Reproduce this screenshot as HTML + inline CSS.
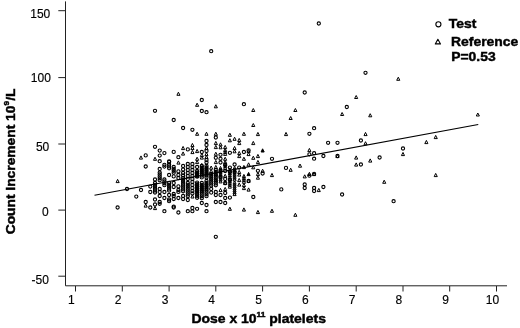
<!DOCTYPE html>
<html><head><meta charset="utf-8"><title>Count Increment vs Dose</title>
<style>
html,body{margin:0;padding:0;background:#fff;}
svg{display:block;font-family:"Liberation Sans",sans-serif;}
.tk{font-size:12px;fill:#000;stroke:#000;stroke-width:0.15px;}
.ttl{font-size:13.3px;font-weight:bold;fill:#000;stroke:#000;stroke-width:0.45px;}
.lg{font-size:13.25px;font-weight:bold;fill:#000;stroke:#000;stroke-width:0.45px;}
.m{stroke-linejoin:round;fill:#fff;fill-opacity:0;stroke:#000;stroke-width:1.1;}
</style></head><body>
<svg width="520" height="328" viewBox="0 0 520 328">
<rect width="520" height="328" fill="#fff"/>
<path d="M65.5 1.4V285.8H507" fill="none" stroke="#222" stroke-width="1"/>
<line x1="75.5" y1="286" x2="75.5" y2="291.5" stroke="#222" stroke-width="1"/>
<text x="71.4" y="303.9" text-anchor="middle" class="tk">1</text>
<line x1="122.3" y1="286" x2="122.3" y2="291.5" stroke="#222" stroke-width="1"/>
<text x="118.2" y="303.9" text-anchor="middle" class="tk">2</text>
<line x1="169.1" y1="286" x2="169.1" y2="291.5" stroke="#222" stroke-width="1"/>
<text x="165.0" y="303.9" text-anchor="middle" class="tk">3</text>
<line x1="215.8" y1="286" x2="215.8" y2="291.5" stroke="#222" stroke-width="1"/>
<text x="211.7" y="303.9" text-anchor="middle" class="tk">4</text>
<line x1="262.6" y1="286" x2="262.6" y2="291.5" stroke="#222" stroke-width="1"/>
<text x="258.5" y="303.9" text-anchor="middle" class="tk">5</text>
<line x1="309.4" y1="286" x2="309.4" y2="291.5" stroke="#222" stroke-width="1"/>
<text x="305.3" y="303.9" text-anchor="middle" class="tk">6</text>
<line x1="356.2" y1="286" x2="356.2" y2="291.5" stroke="#222" stroke-width="1"/>
<text x="352.1" y="303.9" text-anchor="middle" class="tk">7</text>
<line x1="403.0" y1="286" x2="403.0" y2="291.5" stroke="#222" stroke-width="1"/>
<text x="398.9" y="303.9" text-anchor="middle" class="tk">8</text>
<line x1="449.7" y1="286" x2="449.7" y2="291.5" stroke="#222" stroke-width="1"/>
<text x="445.6" y="303.9" text-anchor="middle" class="tk">9</text>
<line x1="496.5" y1="286" x2="496.5" y2="291.5" stroke="#222" stroke-width="1"/>
<text x="492.4" y="303.9" text-anchor="middle" class="tk">10</text>
<line x1="58.3" y1="10.7" x2="65.5" y2="10.7" stroke="#222" stroke-width="1"/>
<text x="50.3" y="17.6" text-anchor="end" class="tk">150</text>
<line x1="58.3" y1="77.6" x2="65.5" y2="77.6" stroke="#222" stroke-width="1"/>
<text x="50.9" y="82.3" text-anchor="end" class="tk">100</text>
<line x1="58.3" y1="144.0" x2="65.5" y2="144.0" stroke="#222" stroke-width="1"/>
<text x="49.3" y="150.6" text-anchor="end" class="tk">50</text>
<line x1="58.3" y1="210.1" x2="65.5" y2="210.1" stroke="#222" stroke-width="1"/>
<text x="48.8" y="216.4" text-anchor="end" class="tk">0</text>
<line x1="58.3" y1="276.2" x2="65.5" y2="276.2" stroke="#222" stroke-width="1"/>
<text x="48.9" y="283.7" text-anchor="end" class="tk">-50</text>
<line x1="94.5" y1="195.25" x2="478.25" y2="124.5" stroke="#000" stroke-width="1.2"/>
<g class="m">
<polygon points="117.6,179.4 116.1,182.6 119.2,182.6" stroke-width="1.0"/>
<circle cx="117.6" cy="207.5" r="1.6"/>
<circle cx="127.0" cy="189.0" r="1.6"/>
<circle cx="136.3" cy="196.6" r="1.6"/>
<polygon points="141.0,155.9 139.4,159.1 142.5,159.1" stroke-width="1.0"/>
<circle cx="141.0" cy="190.0" r="1.6"/>
<circle cx="145.7" cy="155.4" r="1.6"/>
<circle cx="145.7" cy="166.5" r="1.6"/>
<circle cx="145.7" cy="202.0" r="1.6"/>
<polygon points="145.7,203.9 144.1,207.1 147.2,207.1" stroke-width="1.0"/>
<circle cx="150.3" cy="186.6" r="1.6"/>
<circle cx="150.3" cy="192.0" r="1.6"/>
<circle cx="150.3" cy="207.5" r="1.6"/>
<circle cx="155.0" cy="110.8" r="1.6"/>
<circle cx="155.0" cy="146.8" r="1.6"/>
<polygon points="155.0,157.2 153.5,160.3 156.6,160.3" stroke-width="1.0"/>
<circle cx="155.0" cy="179.5" r="1.6"/>
<circle cx="155.0" cy="183.0" r="1.6"/>
<circle cx="155.0" cy="184.9" r="1.6"/>
<circle cx="155.0" cy="186.8" r="1.6"/>
<circle cx="155.0" cy="188.7" r="1.6"/>
<circle cx="155.0" cy="190.6" r="1.6"/>
<circle cx="155.0" cy="192.5" r="1.6"/>
<circle cx="155.0" cy="199.5" r="1.6"/>
<circle cx="155.0" cy="204.5" r="1.6"/>
<polygon points="155.0,206.4 153.5,209.6 156.6,209.6" stroke-width="1.0"/>
<circle cx="159.7" cy="150.6" r="1.6"/>
<circle cx="159.7" cy="155.6" r="1.6"/>
<circle cx="159.7" cy="161.2" r="1.6"/>
<circle cx="159.7" cy="169.0" r="1.6"/>
<circle cx="159.7" cy="172.6" r="1.6"/>
<circle cx="159.7" cy="174.5" r="1.6"/>
<circle cx="159.7" cy="176.4" r="1.6"/>
<circle cx="159.7" cy="178.3" r="1.6"/>
<circle cx="159.7" cy="180.2" r="1.6"/>
<circle cx="159.7" cy="189.0" r="1.6"/>
<circle cx="159.7" cy="192.0" r="1.6"/>
<circle cx="159.7" cy="196.0" r="1.6"/>
<circle cx="159.7" cy="202.0" r="1.6"/>
<circle cx="159.7" cy="203.8" r="1.6"/>
<circle cx="164.4" cy="153.1" r="1.6"/>
<circle cx="164.4" cy="164.8" r="1.6"/>
<circle cx="164.4" cy="166.6" r="1.6"/>
<circle cx="164.4" cy="179.5" r="1.6"/>
<circle cx="164.4" cy="181.4" r="1.6"/>
<circle cx="164.4" cy="183.3" r="1.6"/>
<circle cx="164.4" cy="185.2" r="1.6"/>
<circle cx="164.4" cy="192.0" r="1.6"/>
<circle cx="164.4" cy="198.0" r="1.6"/>
<circle cx="164.4" cy="211.2" r="1.6"/>
<circle cx="169.1" cy="161.5" r="1.6"/>
<circle cx="169.1" cy="162.1" r="1.6"/>
<circle cx="169.1" cy="164.5" r="1.6"/>
<circle cx="169.1" cy="166.4" r="1.6"/>
<circle cx="169.1" cy="168.3" r="1.6"/>
<circle cx="169.1" cy="175.0" r="1.6"/>
<circle cx="169.1" cy="183.0" r="1.6"/>
<circle cx="169.1" cy="184.9" r="1.6"/>
<circle cx="169.1" cy="186.8" r="1.6"/>
<circle cx="169.1" cy="188.7" r="1.6"/>
<circle cx="169.1" cy="190.6" r="1.6"/>
<circle cx="169.1" cy="195.0" r="1.6"/>
<circle cx="169.1" cy="199.5" r="1.6"/>
<circle cx="169.1" cy="201.2" r="1.6"/>
<circle cx="173.7" cy="120.0" r="1.6"/>
<circle cx="173.7" cy="151.9" r="1.6"/>
<circle cx="173.7" cy="167.0" r="1.6"/>
<circle cx="173.7" cy="168.9" r="1.6"/>
<circle cx="173.7" cy="170.8" r="1.6"/>
<circle cx="173.7" cy="172.7" r="1.6"/>
<circle cx="173.7" cy="176.4" r="1.6"/>
<circle cx="173.7" cy="183.0" r="1.6"/>
<circle cx="173.7" cy="187.0" r="1.6"/>
<circle cx="173.7" cy="194.0" r="1.6"/>
<circle cx="173.7" cy="196.0" r="1.6"/>
<circle cx="173.7" cy="199.0" r="1.6"/>
<circle cx="173.7" cy="206.6" r="1.6"/>
<circle cx="173.7" cy="207.5" r="1.6"/>
<polygon points="178.4,92.2 176.9,95.3 180.0,95.3" stroke-width="1.0"/>
<circle cx="178.4" cy="157.2" r="1.6"/>
<polygon points="178.4,160.9 176.9,164.1 180.0,164.1" stroke-width="1.0"/>
<circle cx="178.4" cy="171.4" r="1.6"/>
<circle cx="178.4" cy="175.0" r="1.6"/>
<circle cx="178.4" cy="178.0" r="1.6"/>
<circle cx="178.4" cy="186.4" r="1.6"/>
<circle cx="178.4" cy="190.0" r="1.6"/>
<circle cx="178.4" cy="191.9" r="1.6"/>
<circle cx="178.4" cy="198.0" r="1.6"/>
<circle cx="178.4" cy="212.5" r="1.6"/>
<circle cx="183.1" cy="128.0" r="1.6"/>
<polygon points="183.1,146.4 181.5,149.6 184.6,149.6" stroke-width="1.0"/>
<polygon points="183.1,151.9 181.5,155.1 184.6,155.1" stroke-width="1.0"/>
<circle cx="183.1" cy="166.0" r="1.6"/>
<circle cx="183.1" cy="169.5" r="1.6"/>
<circle cx="183.1" cy="173.0" r="1.6"/>
<circle cx="183.1" cy="175.5" r="1.6"/>
<circle cx="183.1" cy="178.0" r="1.6"/>
<circle cx="183.1" cy="179.9" r="1.6"/>
<circle cx="183.1" cy="181.8" r="1.6"/>
<circle cx="183.1" cy="183.7" r="1.6"/>
<circle cx="183.1" cy="185.6" r="1.6"/>
<circle cx="183.1" cy="187.5" r="1.6"/>
<circle cx="183.1" cy="189.4" r="1.6"/>
<circle cx="183.1" cy="191.3" r="1.6"/>
<circle cx="183.1" cy="196.0" r="1.6"/>
<circle cx="183.1" cy="199.0" r="1.6"/>
<circle cx="187.8" cy="149.4" r="1.6"/>
<circle cx="187.8" cy="164.0" r="1.6"/>
<circle cx="187.8" cy="167.0" r="1.6"/>
<circle cx="187.8" cy="170.0" r="1.6"/>
<circle cx="187.8" cy="173.0" r="1.6"/>
<circle cx="187.8" cy="176.0" r="1.6"/>
<circle cx="187.8" cy="179.0" r="1.6"/>
<circle cx="187.8" cy="183.0" r="1.6"/>
<circle cx="187.8" cy="184.9" r="1.6"/>
<circle cx="187.8" cy="186.8" r="1.6"/>
<circle cx="187.8" cy="188.7" r="1.6"/>
<circle cx="187.8" cy="190.6" r="1.6"/>
<circle cx="187.8" cy="192.5" r="1.6"/>
<circle cx="187.8" cy="194.4" r="1.6"/>
<circle cx="187.8" cy="196.3" r="1.6"/>
<circle cx="187.8" cy="200.0" r="1.6"/>
<circle cx="187.8" cy="211.2" r="1.6"/>
<circle cx="192.4" cy="129.8" r="1.6"/>
<polygon points="192.4,143.4 190.9,146.6 194.0,146.6" stroke-width="1.0"/>
<polygon points="192.4,146.4 190.9,149.6 194.0,149.6" stroke-width="1.0"/>
<polygon points="192.4,150.4 190.9,153.6 194.0,153.6" stroke-width="1.0"/>
<circle cx="192.4" cy="164.0" r="1.6"/>
<circle cx="192.4" cy="167.0" r="1.6"/>
<circle cx="192.4" cy="170.0" r="1.6"/>
<circle cx="192.4" cy="173.0" r="1.6"/>
<circle cx="192.4" cy="176.0" r="1.6"/>
<circle cx="192.4" cy="179.0" r="1.6"/>
<circle cx="192.4" cy="182.0" r="1.6"/>
<circle cx="192.4" cy="185.0" r="1.6"/>
<circle cx="192.4" cy="188.0" r="1.6"/>
<circle cx="192.4" cy="191.0" r="1.6"/>
<circle cx="192.4" cy="193.5" r="1.6"/>
<polygon points="192.4,194.8 190.9,198.0 194.0,198.0" stroke-width="1.0"/>
<circle cx="192.4" cy="208.0" r="1.6"/>
<circle cx="192.4" cy="211.2" r="1.6"/>
<polygon points="197.1,103.2 195.6,106.3 198.7,106.3" stroke-width="1.0"/>
<polygon points="197.1,132.2 195.6,135.3 198.7,135.3" stroke-width="1.0"/>
<polygon points="197.1,149.4 195.6,152.6 198.7,152.6" stroke-width="1.0"/>
<polygon points="197.1,157.2 195.6,160.3 198.7,160.3" stroke-width="1.0"/>
<polygon points="197.1,160.4 195.6,163.6 198.7,163.6" stroke-width="1.0"/>
<circle cx="197.1" cy="167.0" r="1.6"/>
<circle cx="197.1" cy="171.0" r="1.6"/>
<circle cx="197.1" cy="172.9" r="1.6"/>
<circle cx="197.1" cy="174.8" r="1.6"/>
<circle cx="197.1" cy="176.7" r="1.6"/>
<polygon points="197.1,170.4 195.6,173.6 198.7,173.6" stroke-width="1.0"/>
<polygon points="197.1,172.3 195.6,175.5 198.7,175.5" stroke-width="1.0"/>
<polygon points="197.1,174.2 195.6,177.4 198.7,177.4" stroke-width="1.0"/>
<circle cx="197.1" cy="182.6" r="1.6"/>
<circle cx="197.1" cy="184.5" r="1.6"/>
<circle cx="197.1" cy="186.4" r="1.6"/>
<circle cx="197.1" cy="188.3" r="1.6"/>
<circle cx="197.1" cy="190.2" r="1.6"/>
<circle cx="197.1" cy="192.1" r="1.6"/>
<circle cx="197.1" cy="194.0" r="1.6"/>
<circle cx="197.1" cy="195.9" r="1.6"/>
<circle cx="197.1" cy="197.8" r="1.6"/>
<polygon points="197.1,182.4 195.6,185.6 198.7,185.6" stroke-width="1.0"/>
<polygon points="197.1,184.3 195.6,187.5 198.7,187.5" stroke-width="1.0"/>
<polygon points="197.1,186.2 195.6,189.4 198.7,189.4" stroke-width="1.0"/>
<polygon points="197.1,188.2 195.6,191.3 198.7,191.3" stroke-width="1.0"/>
<circle cx="197.1" cy="208.8" r="1.6"/>
<circle cx="201.8" cy="100.0" r="1.6"/>
<circle cx="201.8" cy="111.0" r="1.6"/>
<circle cx="201.8" cy="152.0" r="1.6"/>
<polygon points="201.8,153.4 200.3,156.6 203.4,156.6" stroke-width="1.0"/>
<polygon points="201.8,155.9 200.3,159.1 203.4,159.1" stroke-width="1.0"/>
<polygon points="201.8,163.4 200.3,166.6 203.4,166.6" stroke-width="1.0"/>
<circle cx="201.8" cy="166.0" r="1.6"/>
<circle cx="201.8" cy="167.9" r="1.6"/>
<circle cx="201.8" cy="169.8" r="1.6"/>
<circle cx="201.8" cy="171.7" r="1.6"/>
<circle cx="201.8" cy="173.6" r="1.6"/>
<circle cx="201.8" cy="175.5" r="1.6"/>
<circle cx="201.8" cy="177.4" r="1.6"/>
<polygon points="201.8,166.4 200.3,169.6 203.4,169.6" stroke-width="1.0"/>
<polygon points="201.8,168.3 200.3,171.5 203.4,171.5" stroke-width="1.0"/>
<polygon points="201.8,170.2 200.3,173.4 203.4,173.4" stroke-width="1.0"/>
<polygon points="201.8,172.2 200.3,175.3 203.4,175.3" stroke-width="1.0"/>
<circle cx="201.8" cy="183.0" r="1.6"/>
<circle cx="201.8" cy="184.9" r="1.6"/>
<circle cx="201.8" cy="186.8" r="1.6"/>
<circle cx="201.8" cy="188.7" r="1.6"/>
<circle cx="201.8" cy="190.6" r="1.6"/>
<circle cx="201.8" cy="192.5" r="1.6"/>
<circle cx="201.8" cy="194.4" r="1.6"/>
<circle cx="201.8" cy="196.3" r="1.6"/>
<circle cx="201.8" cy="198.2" r="1.6"/>
<polygon points="201.8,183.4 200.3,186.6 203.4,186.6" stroke-width="1.0"/>
<polygon points="201.8,185.3 200.3,188.5 203.4,188.5" stroke-width="1.0"/>
<polygon points="201.8,187.2 200.3,190.4 203.4,190.4" stroke-width="1.0"/>
<polygon points="201.8,189.2 200.3,192.3 203.4,192.3" stroke-width="1.0"/>
<circle cx="201.8" cy="203.0" r="1.6"/>
<circle cx="206.5" cy="112.2" r="1.6"/>
<polygon points="206.5,132.2 204.9,135.3 208.0,135.3" stroke-width="1.0"/>
<circle cx="206.5" cy="141.0" r="1.6"/>
<circle cx="206.5" cy="145.0" r="1.6"/>
<polygon points="206.5,146.4 204.9,149.6 208.0,149.6" stroke-width="1.0"/>
<circle cx="206.5" cy="151.0" r="1.6"/>
<polygon points="206.5,152.4 204.9,155.6 208.0,155.6" stroke-width="1.0"/>
<polygon points="206.5,155.4 204.9,158.6 208.0,158.6" stroke-width="1.0"/>
<circle cx="206.5" cy="160.0" r="1.6"/>
<circle cx="206.5" cy="162.5" r="1.6"/>
<circle cx="206.5" cy="166.0" r="1.6"/>
<circle cx="206.5" cy="167.9" r="1.6"/>
<circle cx="206.5" cy="169.8" r="1.6"/>
<circle cx="206.5" cy="171.7" r="1.6"/>
<circle cx="206.5" cy="173.6" r="1.6"/>
<circle cx="206.5" cy="175.5" r="1.6"/>
<circle cx="206.5" cy="177.4" r="1.6"/>
<polygon points="206.5,165.4 204.9,168.6 208.0,168.6" stroke-width="1.0"/>
<polygon points="206.5,167.3 204.9,170.5 208.0,170.5" stroke-width="1.0"/>
<polygon points="206.5,169.2 204.9,172.4 208.0,172.4" stroke-width="1.0"/>
<polygon points="206.5,171.2 204.9,174.3 208.0,174.3" stroke-width="1.0"/>
<polygon points="206.5,173.1 204.9,176.2 208.0,176.2" stroke-width="1.0"/>
<circle cx="206.5" cy="181.0" r="1.6"/>
<circle cx="206.5" cy="182.9" r="1.6"/>
<circle cx="206.5" cy="184.8" r="1.6"/>
<circle cx="206.5" cy="186.7" r="1.6"/>
<circle cx="206.5" cy="188.6" r="1.6"/>
<circle cx="206.5" cy="190.5" r="1.6"/>
<circle cx="206.5" cy="192.4" r="1.6"/>
<circle cx="206.5" cy="194.3" r="1.6"/>
<circle cx="206.5" cy="196.2" r="1.6"/>
<polygon points="206.5,181.4 204.9,184.6 208.0,184.6" stroke-width="1.0"/>
<polygon points="206.5,183.3 204.9,186.5 208.0,186.5" stroke-width="1.0"/>
<polygon points="206.5,185.2 204.9,188.4 208.0,188.4" stroke-width="1.0"/>
<polygon points="206.5,187.2 204.9,190.3 208.0,190.3" stroke-width="1.0"/>
<circle cx="206.5" cy="205.0" r="1.6"/>
<circle cx="206.5" cy="211.2" r="1.6"/>
<circle cx="211.2" cy="51.2" r="1.6"/>
<polygon points="211.2,166.0 209.6,169.2 212.7,169.2" stroke-width="1.0"/>
<polygon points="211.2,169.4 209.6,172.6 212.7,172.6" stroke-width="1.0"/>
<circle cx="211.2" cy="174.0" r="1.6"/>
<circle cx="211.2" cy="176.0" r="1.6"/>
<circle cx="211.2" cy="177.9" r="1.6"/>
<circle cx="211.2" cy="179.8" r="1.6"/>
<circle cx="211.2" cy="181.7" r="1.6"/>
<circle cx="211.2" cy="183.6" r="1.6"/>
<circle cx="211.2" cy="185.5" r="1.6"/>
<circle cx="211.2" cy="189.0" r="1.6"/>
<circle cx="211.2" cy="192.6" r="1.6"/>
<polygon points="215.8,104.7 214.3,107.8 217.4,107.8" stroke-width="1.0"/>
<polygon points="215.8,132.2 214.3,135.3 217.4,135.3" stroke-width="1.0"/>
<circle cx="215.8" cy="137.5" r="1.6"/>
<polygon points="215.8,141.4 214.3,144.6 217.4,144.6" stroke-width="1.0"/>
<polygon points="215.8,145.4 214.3,148.6 217.4,148.6" stroke-width="1.0"/>
<polygon points="215.8,152.2 214.3,155.3 217.4,155.3" stroke-width="1.0"/>
<circle cx="215.8" cy="157.8" r="1.6"/>
<polygon points="215.8,160.4 214.3,163.6 217.4,163.6" stroke-width="1.0"/>
<polygon points="215.8,165.4 214.3,168.6 217.4,168.6" stroke-width="1.0"/>
<circle cx="215.8" cy="170.0" r="1.6"/>
<circle cx="215.8" cy="172.0" r="1.6"/>
<circle cx="215.8" cy="173.9" r="1.6"/>
<circle cx="215.8" cy="175.8" r="1.6"/>
<circle cx="215.8" cy="177.7" r="1.6"/>
<circle cx="215.8" cy="179.6" r="1.6"/>
<circle cx="215.8" cy="181.5" r="1.6"/>
<circle cx="215.8" cy="183.4" r="1.6"/>
<circle cx="215.8" cy="185.3" r="1.6"/>
<polygon points="215.8,172.4 214.3,175.6 217.4,175.6" stroke-width="1.0"/>
<polygon points="215.8,178.4 214.3,181.6 217.4,181.6" stroke-width="1.0"/>
<circle cx="215.8" cy="192.0" r="1.6"/>
<circle cx="215.8" cy="195.0" r="1.6"/>
<circle cx="215.8" cy="202.0" r="1.6"/>
<circle cx="215.8" cy="236.8" r="1.6"/>
<polygon points="220.5,142.8 219.0,146.0 222.1,146.0" stroke-width="1.0"/>
<polygon points="220.5,145.7 219.0,148.8 222.1,148.8" stroke-width="1.0"/>
<circle cx="220.5" cy="154.8" r="1.6"/>
<circle cx="220.5" cy="158.8" r="1.6"/>
<circle cx="220.5" cy="162.5" r="1.6"/>
<polygon points="220.5,166.4 219.0,169.6 222.1,169.6" stroke-width="1.0"/>
<polygon points="220.5,168.3 219.0,171.5 222.1,171.5" stroke-width="1.0"/>
<polygon points="220.5,170.2 219.0,173.4 222.1,173.4" stroke-width="1.0"/>
<polygon points="220.5,172.2 219.0,175.3 222.1,175.3" stroke-width="1.0"/>
<polygon points="220.5,174.1 219.0,177.2 222.1,177.2" stroke-width="1.0"/>
<polygon points="220.5,176.0 219.0,179.1 222.1,179.1" stroke-width="1.0"/>
<polygon points="220.5,177.9 219.0,181.0 222.1,181.0" stroke-width="1.0"/>
<polygon points="220.5,179.8 219.0,182.9 222.1,182.9" stroke-width="1.0"/>
<circle cx="220.5" cy="171.0" r="1.6"/>
<circle cx="220.5" cy="177.0" r="1.6"/>
<polygon points="220.5,188.4 219.0,191.6 222.1,191.6" stroke-width="1.0"/>
<circle cx="220.5" cy="195.0" r="1.6"/>
<circle cx="220.5" cy="202.0" r="1.6"/>
<polygon points="225.2,145.4 223.6,148.6 226.7,148.6" stroke-width="1.0"/>
<polygon points="225.2,148.4 223.6,151.6 226.7,151.6" stroke-width="1.0"/>
<polygon points="225.2,150.3 223.6,153.5 226.7,153.5" stroke-width="1.0"/>
<polygon points="225.2,152.2 223.6,155.4 226.7,155.4" stroke-width="1.0"/>
<polygon points="225.2,157.2 223.6,160.3 226.7,160.3" stroke-width="1.0"/>
<polygon points="225.2,160.4 223.6,163.6 226.7,163.6" stroke-width="1.0"/>
<polygon points="225.2,162.3 223.6,165.5 226.7,165.5" stroke-width="1.0"/>
<polygon points="225.2,164.2 223.6,167.4 226.7,167.4" stroke-width="1.0"/>
<polygon points="225.2,166.2 223.6,169.3 226.7,169.3" stroke-width="1.0"/>
<circle cx="225.2" cy="165.0" r="1.6"/>
<circle cx="225.2" cy="171.0" r="1.6"/>
<polygon points="225.2,174.2 223.6,177.3 226.7,177.3" stroke-width="1.0"/>
<circle cx="225.2" cy="179.0" r="1.6"/>
<circle cx="225.2" cy="183.0" r="1.6"/>
<polygon points="225.2,181.4 223.6,184.6 226.7,184.6" stroke-width="1.0"/>
<polygon points="225.2,187.4 223.6,190.6 226.7,190.6" stroke-width="1.0"/>
<circle cx="225.2" cy="193.0" r="1.6"/>
<circle cx="225.2" cy="198.0" r="1.6"/>
<circle cx="225.2" cy="203.0" r="1.6"/>
<polygon points="229.9,133.2 228.3,136.3 231.4,136.3" stroke-width="1.0"/>
<polygon points="229.9,138.7 228.3,141.8 231.4,141.8" stroke-width="1.0"/>
<circle cx="229.9" cy="152.8" r="1.6"/>
<circle cx="229.9" cy="167.6" r="1.6"/>
<polygon points="229.9,167.9 228.3,171.1 231.4,171.1" stroke-width="1.0"/>
<polygon points="229.9,169.8 228.3,173.0 231.4,173.0" stroke-width="1.0"/>
<polygon points="229.9,171.8 228.3,174.9 231.4,174.9" stroke-width="1.0"/>
<polygon points="229.9,173.7 228.3,176.8 231.4,176.8" stroke-width="1.0"/>
<polygon points="229.9,175.6 228.3,178.7 231.4,178.7" stroke-width="1.0"/>
<polygon points="229.9,177.5 228.3,180.6 231.4,180.6" stroke-width="1.0"/>
<polygon points="229.9,179.4 228.3,182.5 231.4,182.5" stroke-width="1.0"/>
<polygon points="229.9,181.3 228.3,184.4 231.4,184.4" stroke-width="1.0"/>
<polygon points="229.9,183.2 228.3,186.3 231.4,186.3" stroke-width="1.0"/>
<polygon points="229.9,185.1 228.3,188.2 231.4,188.2" stroke-width="1.0"/>
<circle cx="229.9" cy="172.0" r="1.6"/>
<circle cx="229.9" cy="180.0" r="1.6"/>
<circle cx="229.9" cy="197.6" r="1.6"/>
<polygon points="229.9,207.2 228.3,210.3 231.4,210.3" stroke-width="1.0"/>
<polygon points="234.6,137.2 233.0,140.3 236.1,140.3" stroke-width="1.0"/>
<polygon points="234.6,146.4 233.0,149.6 236.1,149.6" stroke-width="1.0"/>
<polygon points="234.6,149.7 233.0,152.8 236.1,152.8" stroke-width="1.0"/>
<circle cx="234.6" cy="164.5" r="1.6"/>
<polygon points="234.6,166.4 233.0,169.6 236.1,169.6" stroke-width="1.0"/>
<polygon points="234.6,168.3 233.0,171.5 236.1,171.5" stroke-width="1.0"/>
<polygon points="234.6,170.2 233.0,173.4 236.1,173.4" stroke-width="1.0"/>
<polygon points="234.6,172.2 233.0,175.3 236.1,175.3" stroke-width="1.0"/>
<polygon points="234.6,174.1 233.0,177.2 236.1,177.2" stroke-width="1.0"/>
<polygon points="234.6,176.0 233.0,179.1 236.1,179.1" stroke-width="1.0"/>
<polygon points="234.6,177.9 233.0,181.0 236.1,181.0" stroke-width="1.0"/>
<circle cx="234.6" cy="172.0" r="1.6"/>
<polygon points="234.6,181.0 233.0,184.2 236.1,184.2" stroke-width="1.0"/>
<polygon points="234.6,182.9 233.0,186.1 236.1,186.1" stroke-width="1.0"/>
<polygon points="234.6,184.8 233.0,188.0 236.1,188.0" stroke-width="1.0"/>
<polygon points="234.6,186.8 233.0,189.9 236.1,189.9" stroke-width="1.0"/>
<polygon points="234.6,188.7 233.0,191.8 236.1,191.8" stroke-width="1.0"/>
<polygon points="234.6,190.6 233.0,193.7 236.1,193.7" stroke-width="1.0"/>
<polygon points="234.6,192.5 233.0,195.6 236.1,195.6" stroke-width="1.0"/>
<polygon points="239.2,138.4 237.7,141.6 240.8,141.6" stroke-width="1.0"/>
<polygon points="239.2,141.4 237.7,144.6 240.8,144.6" stroke-width="1.0"/>
<polygon points="239.2,151.4 237.7,154.6 240.8,154.6" stroke-width="1.0"/>
<polygon points="239.2,154.4 237.7,157.6 240.8,157.6" stroke-width="1.0"/>
<circle cx="239.2" cy="167.6" r="1.6"/>
<polygon points="239.2,170.4 237.7,173.6 240.8,173.6" stroke-width="1.0"/>
<polygon points="239.2,172.9 237.7,176.1 240.8,176.1" stroke-width="1.0"/>
<polygon points="239.2,178.4 237.7,181.6 240.8,181.6" stroke-width="1.0"/>
<polygon points="239.2,182.9 237.7,186.1 240.8,186.1" stroke-width="1.0"/>
<circle cx="243.9" cy="104.2" r="1.6"/>
<polygon points="243.9,132.2 242.4,135.3 245.5,135.3" stroke-width="1.0"/>
<circle cx="243.9" cy="152.0" r="1.6"/>
<polygon points="243.9,157.2 242.4,160.3 245.5,160.3" stroke-width="1.0"/>
<polygon points="243.9,165.4 242.4,168.6 245.5,168.6" stroke-width="1.0"/>
<polygon points="243.9,174.4 242.4,177.6 245.5,177.6" stroke-width="1.0"/>
<polygon points="243.9,176.3 242.4,179.5 245.5,179.5" stroke-width="1.0"/>
<polygon points="243.9,178.2 242.4,181.4 245.5,181.4" stroke-width="1.0"/>
<polygon points="243.9,180.2 242.4,183.3 245.5,183.3" stroke-width="1.0"/>
<polygon points="243.9,183.4 242.4,186.6 245.5,186.6" stroke-width="1.0"/>
<polygon points="243.9,186.4 242.4,189.6 245.5,189.6" stroke-width="1.0"/>
<polygon points="243.9,207.9 242.4,211.1 245.5,211.1" stroke-width="1.0"/>
<circle cx="248.6" cy="150.4" r="1.6"/>
<polygon points="248.6,149.4 247.0,152.6 250.1,152.6" stroke-width="1.0"/>
<polygon points="248.6,152.4 247.0,155.6 250.1,155.6" stroke-width="1.0"/>
<polygon points="248.6,162.8 247.0,166.0 250.1,166.0" stroke-width="1.0"/>
<polygon points="248.6,172.4 247.0,175.6 250.1,175.6" stroke-width="1.0" fill="#000" fill-opacity="1"/>
<polygon points="248.6,179.2 247.0,182.3 250.1,182.3" stroke-width="1.0"/>
<circle cx="248.6" cy="181.0" r="1.6"/>
<polygon points="248.6,187.9 247.0,191.1 250.1,191.1" stroke-width="1.0"/>
<polygon points="253.3,108.5 251.7,111.5 254.8,111.5" stroke-width="1.0"/>
<polygon points="253.3,123.5 251.7,126.5 254.8,126.5" stroke-width="1.0"/>
<polygon points="253.3,141.4 251.7,144.6 254.8,144.6" stroke-width="1.0"/>
<polygon points="253.3,156.2 251.7,159.3 254.8,159.3" stroke-width="1.0"/>
<polygon points="253.3,165.7 251.7,168.8 254.8,168.8" stroke-width="1.0"/>
<circle cx="253.3" cy="197.0" r="1.6"/>
<polygon points="257.9,132.4 256.4,135.6 259.5,135.6" stroke-width="1.0"/>
<polygon points="257.9,154.4 256.4,157.6 259.5,157.6" stroke-width="1.0"/>
<polygon points="257.9,160.4 256.4,163.6 259.5,163.6" stroke-width="1.0"/>
<circle cx="257.9" cy="170.8" r="1.6"/>
<polygon points="257.9,172.4 256.4,175.6 259.5,175.6" stroke-width="1.0"/>
<polygon points="257.9,176.0 256.4,179.2 259.5,179.2" stroke-width="1.0"/>
<polygon points="257.9,210.4 256.4,213.6 259.5,213.6" stroke-width="1.0"/>
<polygon points="262.6,148.8 261.1,152.0 264.2,152.0" stroke-width="1.0" fill="#000" fill-opacity="1"/>
<polygon points="262.6,169.2 261.1,172.3 264.2,172.3" stroke-width="1.0"/>
<circle cx="262.6" cy="173.5" r="1.6"/>
<circle cx="272.0" cy="158.8" r="1.6"/>
<polygon points="272.0,173.4 270.4,176.6 273.5,176.6" stroke-width="1.0"/>
<polygon points="272.0,209.2 270.4,212.3 273.5,212.3" stroke-width="1.0"/>
<circle cx="281.3" cy="189.4" r="1.6"/>
<polygon points="286.0,132.4 284.5,135.6 287.6,135.6" stroke-width="1.0"/>
<circle cx="286.0" cy="167.9" r="1.6"/>
<polygon points="290.7,116.5 289.1,119.5 292.2,119.5" stroke-width="1.0"/>
<polygon points="290.7,168.2 289.1,171.3 292.2,171.3" stroke-width="1.0"/>
<polygon points="295.4,108.5 293.8,111.5 296.9,111.5" stroke-width="1.0"/>
<polygon points="295.4,213.2 293.8,216.3 296.9,216.3" stroke-width="1.0"/>
<polygon points="300.0,164.0 298.5,167.2 301.6,167.2" stroke-width="1.0"/>
<circle cx="304.7" cy="92.5" r="1.6"/>
<polygon points="304.7,174.8 303.2,177.9 306.3,177.9" stroke-width="1.0"/>
<circle cx="304.7" cy="184.5" r="1.6"/>
<circle cx="304.7" cy="188.0" r="1.6"/>
<circle cx="309.4" cy="133.8" r="1.6"/>
<polygon points="309.4,148.4 307.8,151.6 310.9,151.6" stroke-width="1.0"/>
<circle cx="309.4" cy="154.3" r="1.6"/>
<polygon points="309.4,172.3 307.8,175.5 310.9,175.5" stroke-width="1.0"/>
<circle cx="309.4" cy="175.7" r="1.6"/>
<circle cx="314.1" cy="128.2" r="1.6"/>
<circle cx="314.1" cy="153.2" r="1.6"/>
<circle cx="314.1" cy="158.7" r="1.6"/>
<circle cx="314.1" cy="173.9" r="1.6"/>
<polygon points="314.1,172.4 312.5,175.6 315.6,175.6" stroke-width="1.0"/>
<circle cx="314.1" cy="188.0" r="1.6"/>
<circle cx="314.1" cy="191.0" r="1.6"/>
<circle cx="318.8" cy="23.5" r="1.6"/>
<polygon points="318.8,188.4 317.2,191.6 320.3,191.6" stroke-width="1.0"/>
<circle cx="323.4" cy="156.0" r="1.6"/>
<circle cx="323.4" cy="187.0" r="1.6"/>
<circle cx="328.1" cy="142.8" r="1.6"/>
<circle cx="337.5" cy="142.8" r="1.6"/>
<circle cx="337.5" cy="156.0" r="1.6"/>
<polygon points="337.5,154.4 335.9,157.6 339.0,157.6" stroke-width="1.0"/>
<polygon points="342.1,112.5 340.6,115.5 343.7,115.5" stroke-width="1.0"/>
<circle cx="342.1" cy="194.5" r="1.6"/>
<circle cx="346.8" cy="107.0" r="1.6"/>
<polygon points="356.2,95.5 354.6,98.5 357.7,98.5" stroke-width="1.0"/>
<polygon points="356.2,155.9 354.6,159.1 357.7,159.1" stroke-width="1.0"/>
<polygon points="356.2,162.9 354.6,166.1 357.7,166.1" stroke-width="1.0"/>
<circle cx="360.9" cy="140.5" r="1.6"/>
<circle cx="360.9" cy="164.5" r="1.6"/>
<circle cx="365.5" cy="72.8" r="1.6"/>
<polygon points="365.5,132.4 364.0,135.6 367.1,135.6" stroke-width="1.0"/>
<polygon points="365.5,141.7 364.0,144.8 367.1,144.8" stroke-width="1.0"/>
<polygon points="370.2,113.7 368.7,116.8 371.8,116.8" stroke-width="1.0"/>
<polygon points="370.2,158.9 368.7,162.1 371.8,162.1" stroke-width="1.0"/>
<circle cx="379.6" cy="157.5" r="1.6"/>
<polygon points="384.2,180.2 382.7,183.3 385.8,183.3" stroke-width="1.0"/>
<circle cx="393.6" cy="201.2" r="1.6"/>
<polygon points="398.3,77.2 396.7,80.3 399.8,80.3" stroke-width="1.0"/>
<circle cx="403.0" cy="148.5" r="1.6"/>
<polygon points="403.0,152.4 401.4,155.6 404.5,155.6" stroke-width="1.0"/>
<polygon points="426.4,140.4 424.8,143.6 427.9,143.6" stroke-width="1.0"/>
<polygon points="435.7,135.4 434.2,138.6 437.3,138.6" stroke-width="1.0"/>
<polygon points="435.7,173.4 434.2,176.6 437.3,176.6" stroke-width="1.0"/>
<polygon points="477.8,113.0 476.3,116.0 479.4,116.0" stroke-width="1.0"/>
</g>
<g class="m" stroke-width="1.1">
<circle cx="438.4" cy="24.3" r="2.55" style="stroke-width:1.1"/>
<polygon points="437.9,39.3 435.3,43.9 440.5,43.9" style="stroke-width:1.1"/>
</g>
<text transform="translate(448.8,28.3) scale(1.05,1)" class="lg">Test</text>
<text transform="translate(451.0,45.5) scale(1.05,1)" class="lg">Reference</text>
<text transform="translate(451.2,61.4) scale(1.05,1)" class="lg">P=0.53</text>
<text transform="translate(191.4,323.3) scale(1.05,1)" class="ttl">Dose x 10<tspan dy="-6.4" font-size="8px">11</tspan><tspan dy="6.4"> platelets</tspan></text>
<text transform="translate(15.4,234.3) rotate(-90) scale(1.05,1)" class="ttl" style="font-size:13.15px">Count Increment 10<tspan dy="-6.4" font-size="8px">9</tspan><tspan dy="6.4">/L</tspan></text>
</svg>
</body></html>
